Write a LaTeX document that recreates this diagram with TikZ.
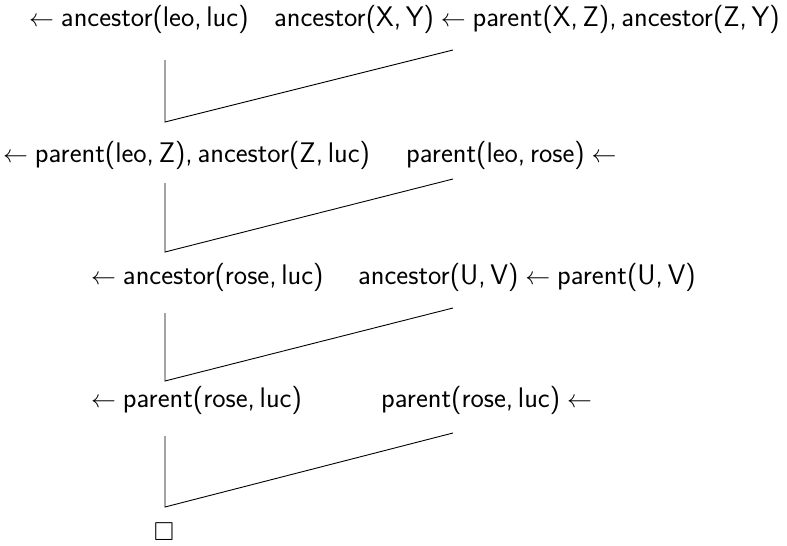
\documentclass[tikz,border=0pt]{standalone}
\usepackage{amssymb}
\begin{document}
\begin{tikzpicture}[x=1pt,y=-1pt,
  term/.style={anchor=base west, inner sep=0pt, font=\fontsize{28.3}{33}\selectfont\sffamily},
  link/.style={line width=0.9pt, line join=miter}]
\useasboundingbox (0,0) rectangle (787,546);

% goals (left column) and clauses (right column)
\node[term] (g1) at (29,27)  {$\leftarrow\;$ancestor(leo,\,luc)};
\node[term] (k1) at (274,27) {ancestor(X,\,Y)$\;\leftarrow\;$parent(X,\,Z),\,ancestor(Z,\,Y)};
\node[term] (g2) at (3,162)  {$\leftarrow\;$parent(leo,\,Z),\,ancestor(Z,\,luc)};
\node[term] (k2) at (406,162) {parent(leo,\,rose)$\;\leftarrow$};
\node[term] (g3) at (91,284) {$\leftarrow\;$ancestor(rose,\,luc)};
\node[term] (k3) at (358,284) {ancestor(U,\,V)$\;\leftarrow\;$parent(U,\,V)};
\node[term] (g4) at (91,407) {$\leftarrow\;$parent(rose,\,luc)};
\node[term] (k4) at (381,407) {parent(rose,\,luc)$\;\leftarrow$};
\node[anchor=center, inner sep=0pt, font=\fontsize{26}{31}\selectfont] (g5) at (164,532) {$\square$};

% resolution steps: goal down to the corner, clause across to the corner
\coordinate (t1) at (165,60);  \coordinate (c1) at (165,122); \coordinate (s1) at (453,50);
\coordinate (t2) at (165,183); \coordinate (c2) at (165,252); \coordinate (s2) at (453,179);
\coordinate (t3) at (165,313); \coordinate (c3) at (165,381); \coordinate (s3) at (453,308);
\coordinate (t4) at (165,436); \coordinate (c4) at (165,507); \coordinate (s4) at (453,433);

\draw[link] (t1) -- (c1) -- (s1);
\draw[link] (t2) -- (c2) -- (s2);
\draw[link] (t3) -- (c3) -- (s3);
\draw[link] (t4) -- (c4) -- (s4);
\end{tikzpicture}
\end{document}
